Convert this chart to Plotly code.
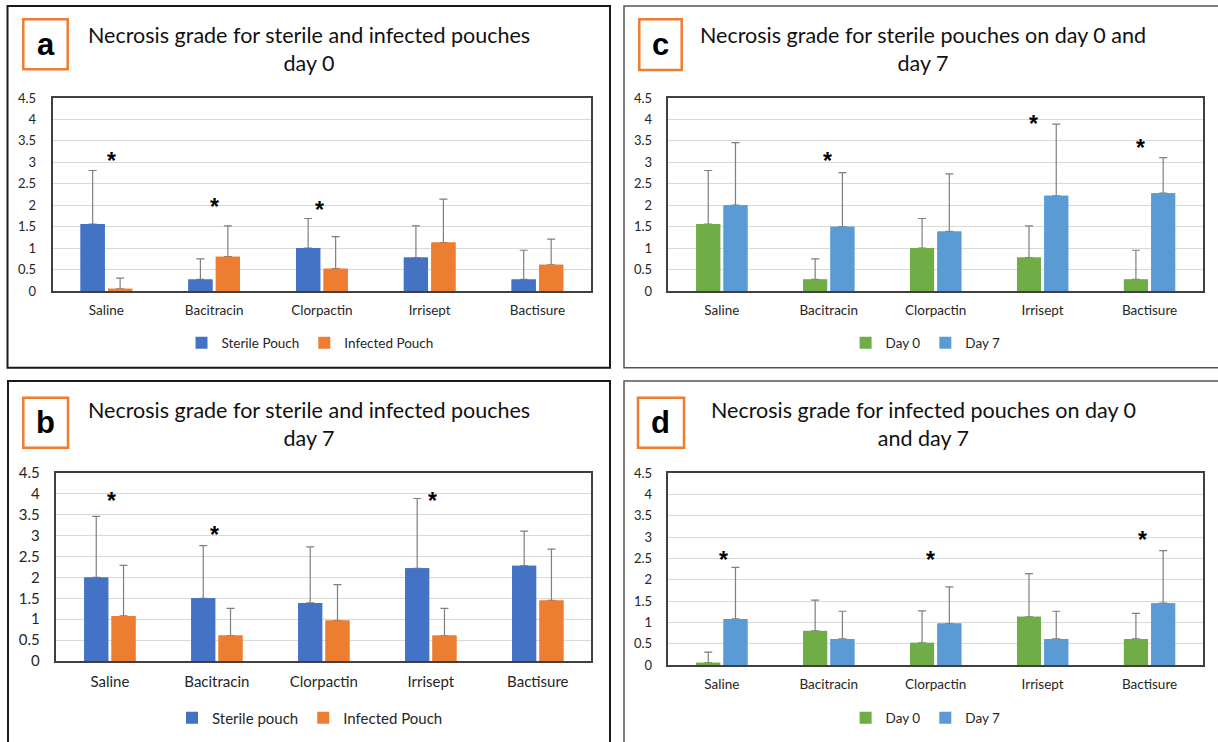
import plotly.graph_objects as go

categories = ["Saline", "Bacitracin", "Clorpactin", "Irrisept", "Bactisure"]

# Mean necrosis grade and upper error (SD) per treatment
sterile_day0 = [1.56, 0.27, 1.00, 0.78, 0.27]
sterile_day0_err = [1.25, 0.48, 0.69, 0.74, 0.68]
infected_day0 = [0.05, 0.80, 0.52, 1.13, 0.61]
infected_day0_err = [0.25, 0.72, 0.75, 1.01, 0.60]
sterile_day7 = [2.00, 1.50, 1.39, 2.22, 2.28]
sterile_day7_err = [1.46, 1.26, 1.34, 1.67, 0.83]
infected_day7 = [1.08, 0.61, 0.97, 0.61, 1.45]
infected_day7_err = [1.21, 0.65, 0.86, 0.65, 1.23]

# significance stars: (category position, y)
stars_a = [(0.05, 3.12), (1.0, 2.06), (1.975, 1.99)]
stars_b = [(0.016, 3.92), (0.976, 3.10), (3.016, 3.92)]
stars_c = [(0.99, 3.13), (2.91, 3.99), (3.92, 3.43)]
stars_d = [(0.016, 2.55), (1.947, 2.55), (3.936, 3.03)]

W, H = 1218, 742
BLUE, ORANGE, GREEN, LBLUE = "#4472C4", "#ED7D31", "#70AD47", "#5B9BD5"
FONT = "Lato, Open Sans, sans-serif"

def px(x):
    return x / W

def py(y):
    return 1 - y / H

panels = [
    dict(ax="", xd=(52.5, 591.3), yd=(291, 98),
         series=[("Sterile Pouch", sterile_day0, sterile_day0_err, BLUE),
                 ("Infected Pouch", infected_day0, infected_day0_err, ORANGE)],
         legend="legend", legy=343, legx=310,
         title="Necrosis grade for sterile and infected pouches<br>day 0", tx=309, ty=49,
         letter="a", lb=(23.3, 19.3, 67.7, 69.3), stars=stars_a, tf=13, cf=13.5, lf=13.5),
    dict(ax="2", xd=(668.4, 1203), yd=(291, 98),
         series=[("Day 0", sterile_day0, sterile_day0_err, GREEN),
                 ("Day 7", sterile_day7, sterile_day7_err, LBLUE)],
         legend="legend2", legy=343, legx=925.6,
         title="Necrosis grade for sterile pouches on day 0 and<br>day 7", tx=923, ty=49,
         letter="c", lb=(639.3, 19.3, 681.7, 70), stars=stars_c, tf=13, cf=13.5, lf=13.5),
    dict(ax="3", xd=(56.4, 591.3), yd=(661, 473),
         series=[("Sterile pouch", sterile_day7, sterile_day7_err, BLUE),
                 ("Infected Pouch", infected_day7, infected_day7_err, ORANGE)],
         legend="legend3", legy=718, legx=310,
         title="Necrosis grade for sterile and infected pouches<br>day 7", tx=309, ty=424,
         letter="b", lb=(23.3, 397.7, 68, 447.7), stars=stars_b, tf=15, cf=15, lf=15),
    dict(ax="4", xd=(668.4, 1203), yd=(665, 473),
         series=[("Day 0", infected_day0, infected_day0_err, GREEN),
                 ("Day 7", infected_day7, infected_day7_err, LBLUE)],
         legend="legend4", legy=718, legx=925.6,
         title="Necrosis grade for infected pouches on day 0<br>and day 7", tx=923, ty=424,
         letter="d", lb=(638, 397.7, 684, 447.7), stars=stars_d, tf=13, cf=13.5, lf=13.5),
]

fig = go.Figure()
layout = dict(
    width=W, height=H, autosize=False,
    margin=dict(l=0, r=0, t=0, b=0, pad=0, autoexpand=False),
    paper_bgcolor="white", plot_bgcolor="white",
    barmode="group", bargap=0.49, bargroupgap=0.12,
    font=dict(family=FONT, color="#262626"),
    showlegend=True,
)
shapes = []
annotations = []

# outer panel frames
shapes.append(dict(type="rect", xref="paper", yref="paper", x0=px(7.5), x1=px(610), y0=py(367.7), y1=py(6),
                   line=dict(color="#1a1a1a", width=2)))
shapes.append(dict(type="rect", xref="paper", yref="paper", x0=px(8), x1=px(610), y0=py(760), y1=py(381),
                   line=dict(color="#1a1a1a", width=2)))
shapes.append(dict(type="rect", xref="paper", yref="paper", x0=px(624), x1=px(1230), y0=py(367.7), y1=py(6),
                   line=dict(color="#555555", width=1.5)))
shapes.append(dict(type="rect", xref="paper", yref="paper", x0=px(624), x1=px(1230), y0=py(760), y1=py(381),
                   line=dict(color="#555555", width=1.5)))

for p in panels:
    xa = "x" + p["ax"]
    ya = "y" + p["ax"]
    for i, (name, vals, errs, col) in enumerate(p["series"]):
        fig.add_trace(go.Bar(
            x=categories, y=vals, name=name, marker=dict(color=col, line=dict(width=0)),
            offsetgroup=str(i), xaxis=xa, yaxis=ya, legend=p["legend"],
            error_y=dict(type="data", array=errs, arrayminus=[0] * len(errs), symmetric=False,
                         color="#7f7f7f", thickness=1.2, width=4),
            hoverinfo="skip",
        ))
    # cover copies so the error bar lower cap is hidden under the bar top
    for i, (name, vals, errs, col) in enumerate(p["series"]):
        fig.add_trace(go.Bar(
            x=categories, y=vals, name=name, marker=dict(color=col, line=dict(width=0)),
            offsetgroup=str(i), xaxis=xa, yaxis=ya, legend=p["legend"], showlegend=False,
            hoverinfo="skip",
        ))
    xkey = "xaxis" + p["ax"]
    ykey = "yaxis" + p["ax"]
    layout[xkey] = dict(domain=[px(p["xd"][0]), px(p["xd"][1])], anchor=ya, automargin=False,
                        type="category", showgrid=False, showline=True, mirror=True,
                        linecolor="#404040", linewidth=1.5, ticks="",
                        tickfont=dict(size=p["cf"], color="#262626", family=FONT),
                        ticklabelstandoff=6, fixedrange=True)
    layout[ykey] = dict(domain=[py(p["yd"][0]), py(p["yd"][1])], anchor=xa, automargin=False,
                        range=[0, 4.5], dtick=0.5, tick0=0, showgrid=True, gridcolor="#d9d9d9",
                        gridwidth=1, zeroline=False, showline=True, mirror=True,
                        linecolor="#404040", linewidth=1.5, ticks="",
                        tickfont=dict(size=p["tf"], color="#262626", family=FONT),
                        ticklabelstandoff=12, fixedrange=True)
    layout[p["legend"]] = dict(orientation="h", x=px(p["legx"]), xanchor="center",
                               y=py(p["legy"]), yanchor="middle", bgcolor="rgba(0,0,0,0)",
                               font=dict(size=p["lf"], color="#262626", family=FONT),
                               itemwidth=30, tracegroupgap=0, itemclick=False, itemdoubleclick=False)
    annotations.append(dict(xref="paper", yref="paper", x=px(p["tx"]), y=py(p["ty"]),
                            xanchor="center", yanchor="middle", showarrow=False,
                            text=p["title"], font=dict(size=21.5, color="#111111", family=FONT)))
    x0, y0, x1, y1 = p["lb"]
    shapes.append(dict(type="rect", xref="paper", yref="paper", x0=px(x0), x1=px(x1), y0=py(y1), y1=py(y0),
                       line=dict(color=ORANGE, width=2.5), fillcolor="white"))
    annotations.append(dict(xref="paper", yref="paper", x=px((x0 + x1) / 2), y=py((y0 + y1) / 2),
                            xanchor="center", yanchor="middle", showarrow=False, text="<b>" + p["letter"] + "</b>",
                            font=dict(size=31, color="#000000", family="Liberation Sans, Arial, sans-serif")))
    for sx, sy in p["stars"]:
        annotations.append(dict(xref=xa, yref=ya, x=sx, y=sy, xanchor="center", yanchor="middle",
                                showarrow=False, text="<b>*</b>", yshift=-4,
                                font=dict(size=23, color="#000000", family="Liberation Sans, Arial, sans-serif")))

layout["shapes"] = shapes
layout["annotations"] = annotations
fig.update_layout(**layout)
fig.write_html("out.html", config={"displayModeBar": False},
               post_script="document.body.style.margin='0';document.body.style.padding='0';"
                           "document.documentElement.style.overflow='hidden';")
